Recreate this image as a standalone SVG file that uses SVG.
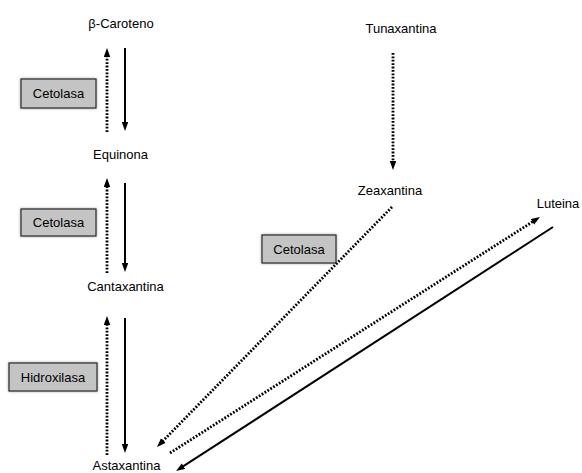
<svg xmlns="http://www.w3.org/2000/svg" width="582" height="473" viewBox="0 0 582 473">
<style>
  .lbl{font-family:"Liberation Sans",Arial,sans-serif;font-size:13px;fill:#000;text-anchor:middle}
  .box{fill:#c4c4c4;stroke:#2a2a2a;stroke-width:1.2;filter:url(#sh)}
  .solid{stroke:#000;stroke-width:2;fill:none;marker-end:url(#ah)}
  .dot{stroke:#000;stroke-width:2.8;fill:none;stroke-dasharray:1.8 1.6;marker-end:url(#ah)}
</style>
<defs>
  <marker id="ah" markerUnits="userSpaceOnUse" markerWidth="10" markerHeight="7" refX="2" refY="3.25" orient="auto">
    <path d="M0,0 L9,3.25 L0,6.5 z" fill="#000"/>
  </marker>
  <filter id="sh" x="-20%" y="-30%" width="140%" height="160%">
    <feDropShadow dx="0" dy="0" stdDeviation="1.5" flood-color="#000" flood-opacity="0.35"/>
  </filter>
</defs>
<rect width="582" height="473" fill="#fff"/>
<g id="connectors">
  <line class="dot" x1="107" y1="132" x2="107" y2="55"/>
  <line class="solid" x1="125" y1="48" x2="125" y2="124"/>
  <line class="dot" x1="107" y1="273" x2="107" y2="185"/>
  <line class="solid" x1="125" y1="183" x2="125" y2="265"/>
  <line class="dot" x1="107" y1="455" x2="107" y2="323"/>
  <line class="solid" x1="125" y1="318" x2="125" y2="446"/>
  <line class="dot" x1="393" y1="53" x2="393" y2="163"/>
  <line class="dot" x1="392" y1="207" x2="161.9" y2="442"/>
  <line class="dot" x1="170" y1="453" x2="534.1" y2="220.8"/>
  <line class="solid" x1="553" y1="227" x2="181.9" y2="467.2"/>
</g>
<g id="beta-caroteno"><text class="lbl" x="121" y="28">β-Caroteno</text></g>
<g id="equinona"><text class="lbl" x="120.5" y="159">Equinona</text></g>
<g id="cantaxantina"><text class="lbl" x="125.5" y="291">Cantaxantina</text></g>
<g id="astaxantina"><text class="lbl" x="126.5" y="470">Astaxantina</text></g>
<g id="tunaxantina"><text class="lbl" x="401" y="33">Tunaxantina</text></g>
<g id="zeaxantina"><text class="lbl" x="390" y="195">Zeaxantina</text></g>
<g id="luteina"><text class="lbl" x="558" y="208">Luteina</text></g>
<g id="cetolasa1">
  <rect class="box" x="21" y="79" width="75" height="29"/>
  <text class="lbl" x="58.5" y="98">Cetolasa</text>
</g>
<g id="cetolasa2">
  <rect class="box" x="21" y="209" width="75" height="27"/>
  <text class="lbl" x="58.5" y="227">Cetolasa</text>
</g>
<g id="hidroxilasa">
  <rect class="box" x="9" y="363" width="88" height="28"/>
  <text class="lbl" x="53" y="382">Hidroxilasa</text>
</g>
<g id="cetolasa3">
  <rect class="box" x="262" y="235" width="74" height="28"/>
  <text class="lbl" x="299" y="254">Cetolasa</text>
</g>
</svg>
